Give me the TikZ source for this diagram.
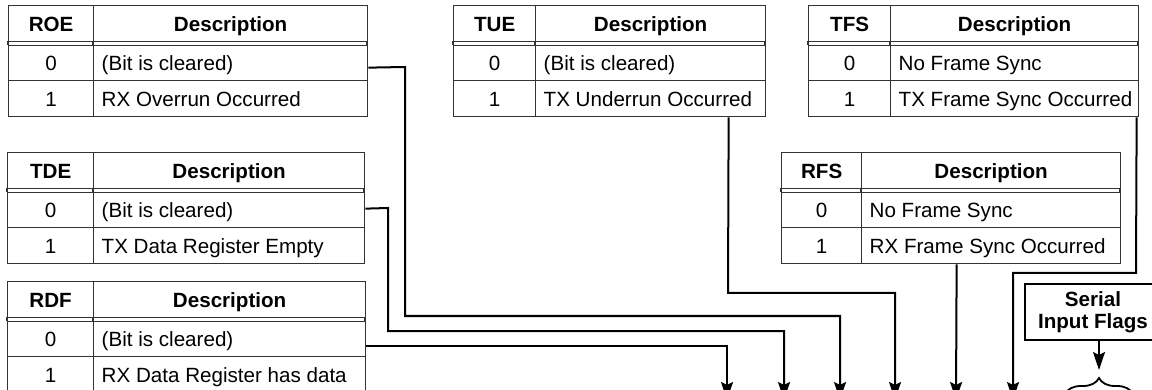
\documentclass[tikz,border=0pt]{standalone}
\usepackage{fontspec}
\setmainfont{Liberation Sans}
\usetikzlibrary{arrows.meta,decorations.pathreplacing}
\newcommand\regtable[8]{%
\node[cellbox,hd,minimum width={(#3-#2)*1pt},minimum height=36pt] (#1hk) at (#2,#5) {#6};
\node[cellbox,hd,minimum width={(#4-#3)*1pt},minimum height=36pt] (#1hd) at (#3,#5) {Description};
\node[cellbox,minimum width={(#3-#2)*1pt},minimum height=35pt] (#1ak) at (#2,#5+40) {0};
\node[cellbox,minimum width={(#4-#3)*1pt},minimum height=35pt] (#1ad) at (#3,#5+40) {};
\node[cellbox,minimum width={(#3-#2)*1pt},minimum height=36pt] (#1bk) at (#2,#5+75) {1};
\node[cellbox,minimum width={(#4-#3)*1pt},minimum height=36pt] (#1bd) at (#3,#5+75) {};
\node[desc] (#1at) at ([xshift=8.5pt]#1ad.west) {#7};
\node[desc] (#1bt) at ([xshift=8.5pt]#1bd.west) {#8};
\draw[tabline] (#2,#5+36) -- (#2,#5+40) (#3,#5+36) -- (#3,#5+40) (#4,#5+36) -- (#4,#5+40);
}
\begin{document}
\begin{tikzpicture}[x=1pt,y=-1pt,
  tabline/.style={draw=black!80,line width=1.3pt},
  cellbox/.style={tabline,anchor=north west,inner sep=0pt,text height=14.8pt,text depth=0pt,
    font=\fontsize{20.6}{22}\selectfont},
  hd/.style={font=\fontsize{20.6}{22}\selectfont\bfseries},
  desc/.style={anchor=west,inner sep=0pt,text height=14.8pt,text depth=0pt,
    font=\fontsize{20.6}{22}\selectfont},
  conn/.style={draw=black,line width=2pt},
  arr/.style={conn,-{Stealth[length=18pt,width=12pt,inset=3pt]}},
  sbox/.style={draw=black,line width=2pt,align=center,minimum width=136pt,minimum height=56pt,
    inner sep=0pt,font=\fontsize{20.6}{21.7}\selectfont\bfseries},
  bracestyle/.style={draw=black,line width=1.8pt,decorate,decoration={brace,amplitude=16pt}}]
\useasboundingbox (0,0) rectangle (1152,390);
\fill[white] (0,0) rectangle (1152,390);
\clip (0,0) rectangle (1152,390);

\regtable{roe}{8}{93}{367}{5}{ROE}{(Bit is cleared)}{RX Overrun Occurred}
\regtable{tue}{453}{535}{765}{5}{TUE}{(Bit is cleared)}{TX Underrun Occurred}
\regtable{tfs}{808}{890}{1138}{5}{TFS}{No Frame Sync}{TX Frame Sync Occurred}
\regtable{tde}{7}{93}{364}{152}{TDE}{(Bit is cleared)}{TX Data Register Empty}
\regtable{rfs}{781}{861}{1120}{152}{RFS}{No Frame Sync}{RX Frame Sync Occurred}
\regtable{rdf}{7}{93}{365}{281}{RDF}{(Bit is cleared)}{RX Data Register has data}

\coordinate (d1) at (727,400);
\coordinate (d2) at (784,400);
\coordinate (d3) at (840,400);
\coordinate (d4) at (895,400);
\coordinate (d5) at (956,400);
\coordinate (d6) at (1013,400);

\draw[arr] ([yshift=-4.5pt]roead.east) -- (405,67) -- (405,316) -| (d3);
\draw[arr] ([yshift=1.5pt]tdead.east) -- (388,208) -- (388,331) -| (d2);
\draw[arr] ([yshift=-7pt]rdfad.east) -| (d1);
\draw[arr] ([xshift=78pt]tuebd.south) -- (728,293) -| (d4);
\draw[arr] ([xshift=-34.5pt]rfsbd.south) -- (d5);
\draw[arr] ([xshift=122pt]tfsbd.south) -- (1136,273) -| (d6);

\node[sbox] (sif) at (1093,312) {Serial\\Input Flags};
\coordinate (sifend) at (1099,370);
\draw[arr] ([xshift=6pt]sif.south) -- (sifend);
\coordinate (bl) at (1065,394);
\coordinate (br) at (1133,394);
\draw[bracestyle] (bl) -- (br);
\end{tikzpicture}
\end{document}
